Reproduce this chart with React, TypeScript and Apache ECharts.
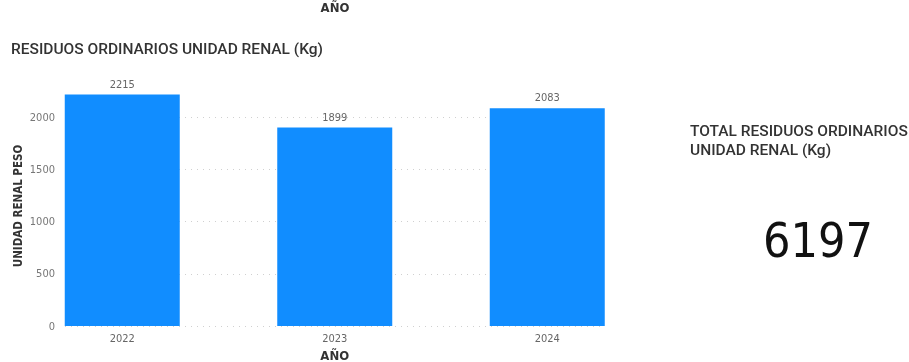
import React, { useEffect, useRef } from "react";
import * as echarts from "echarts";

const years: string[] = ["2022", "2023", "2024"];
const weights: number[] = [2215, 1899, 2083];
const yTickMax = 2000;
const chartTitle = "RESIDUOS ORDINARIOS UNIDAD RENAL (Kg)";
const cardTitle = ["TOTAL RESIDUOS ORDINARIOS", "UNIDAD RENAL (Kg)"];
const yName = "UNIDAD RENAL PESO";
const xName = "AÑO";

const FONT = "'DejaVu Sans Condensed', 'DejaVu Sans', sans-serif";
const TFONT = "Roboto, 'DejaVu Sans', sans-serif";

export default function App() {
  const ref = useRef<HTMLDivElement>(null);
  useEffect(() => {
    if (!ref.current) return;
    const chart = echarts.init(ref.current, undefined, { renderer: "svg" });
    const total = weights.reduce((a, b) => a + b, 0);
    const zeroY = 326;
    const pxPerUnit = 209 / 2000;
    const topB = zeroY - 2500 * pxPerUnit;
    chart.setOption({
      animation: false,
      textStyle: { fontFamily: FONT },
      grid: [
        { left: 65, width: 540, top: zeroY - yTickMax * pxPerUnit, bottom: 362 - zeroY, outerBoundsMode: "none", containLabel: false },
        { left: 16, width: 637.5, top: topB, bottom: 362 - zeroY, outerBoundsMode: "none", containLabel: false },
      ],
      xAxis: [
        { type: "category", gridIndex: 0, data: years, show: false },
        {
          type: "category",
          gridIndex: 1,
          data: years,
          axisLine: { show: false },
          axisTick: { show: false },
          axisLabel: { color: "#666", fontSize: 11, margin: 7, fontFamily: FONT },
          name: xName,
          nameLocation: "middle",
          nameGap: 20,
          nameTextStyle: { color: "#333", fontSize: 13, fontWeight: "bold", fontFamily: FONT },
        },
      ],
      yAxis: [
        {
          type: "value",
          gridIndex: 0,
          min: 0,
          max: yTickMax,
          interval: 500,
          axisLine: { show: false },
          axisTick: { show: false },
          axisLabel: { color: "#777", fontSize: 11, margin: 10, fontFamily: FONT, formatter: (v: number) => String(v) },
          splitLine: { lineStyle: { color: "#d0d0d0", type: [1, 5], width: 1 } },
        },
        {
          type: "value",
          gridIndex: 1,
          min: 0,
          max: 2500,
          show: false,
          splitLine: { show: false },
        },
      ],
      series: [
        {
          type: "bar",
          xAxisIndex: 1,
          yAxisIndex: 1,
          data: weights,
          barWidth: 115,
          itemStyle: { color: "#118DFF" },
          label: {
            show: true,
            position: "top",
            distance: 5,
            color: "#666",
            fontSize: 11,
            fontFamily: FONT,
          },
        },
      ],
      graphic: [
        {
          type: "text",
          left: 11,
          top: 41,
          style: { text: chartTitle, fill: "#333", font: `500 15.5px ${TFONT}` },
        },
        {
          type: "text",
          x: 335,
          y: 1,
          style: { text: xName, fill: "#333", font: `bold 13px ${FONT}`, align: "center" },
        },
        {
          type: "text",
          x: 18,
          y: 206,
          rotation: Math.PI / 2,
          style: {
            text: yName,
            fill: "#333",
            font: `bold 11.5px ${FONT}`,
            align: "center",
            verticalAlign: "middle",
          },
        },
        {
          type: "text",
          left: 690,
          top: 121,
          style: { text: cardTitle.join("\n"), fill: "#333", font: `500 15.5px ${TFONT}`, lineHeight: 19 },
        },
        {
          type: "text",
          x: 818,
          y: 240,
          style: {
            text: String(total),
            fill: "#111",
            font: `500 48px ${FONT}`,
            align: "center",
            verticalAlign: "middle",
          },
        },
      ],
    });
    return () => chart.dispose();
  }, []);
  return <div ref={ref} style={{ width: 909, height: 362, position: "fixed", left: 0, top: 0 }} />;
}
